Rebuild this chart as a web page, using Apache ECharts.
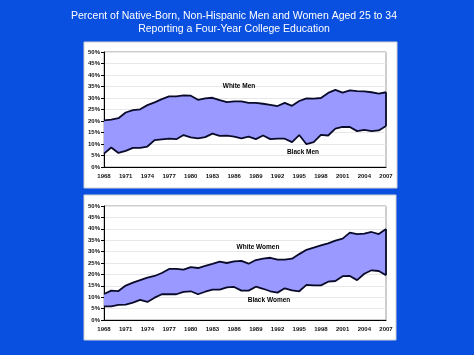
<!DOCTYPE html>
<html><head><meta charset="utf-8">
<script src="https://cdn.jsdelivr.net/npm/echarts@6/dist/echarts.min.js"></script>
<style>html,body{margin:0;padding:0;background:#0a50e0;}#c{width:474px;height:355px;}</style>
</head><body><div id="c"></div>
<script>
const years = [];
for (let y = 1968; y <= 2007; y++) years.push(String(y));
const yTicks = ['0%','5%','10%','15%','20%','25%','30%','35%','40%','45%','50%'];

const whiteMen = [20.3,20.6,21.2,23.7,24.7,25.1,26.9,28.1,29.5,30.7,30.7,31.1,31.0,29.2,29.8,30.1,29.1,28.2,28.5,28.5,27.9,27.9,27.5,27.0,26.5,27.9,26.6,28.7,29.8,29.7,30.0,32.2,33.5,32.3,33.3,33.0,32.9,32.5,31.9,32.5];
const blackMen = [5.8,8.5,6.1,7.0,8.3,8.3,8.9,11.7,12.0,12.3,12.1,13.9,12.9,12.4,13.0,14.5,13.5,13.6,13.2,12.4,13.2,12.1,13.7,12.1,12.3,12.3,10.8,13.9,9.9,10.8,14.0,13.7,16.7,17.4,17.4,15.6,16.1,15.6,15.9,17.8];
const whiteWomen = [11.4,12.9,12.7,15.1,16.4,17.5,18.6,19.3,20.6,22.4,22.4,22.1,23.2,22.8,23.7,24.6,25.6,25.0,25.7,25.9,24.7,26.3,26.9,27.3,26.5,26.5,26.9,28.9,30.8,31.7,32.7,33.6,34.8,35.7,38.3,37.7,37.9,38.6,37.7,39.9];
const blackWomen = [6.0,6.0,6.6,6.7,7.6,8.8,7.9,9.8,11.3,11.3,11.3,12.3,12.6,11.3,12.4,13.3,13.3,14.3,14.5,12.9,12.9,14.6,13.7,12.6,12.0,13.9,13.0,12.6,15.4,15.2,15.2,16.8,17.1,19.2,19.3,17.5,20.3,21.8,21.5,19.6];

const titleLines = ['Percent of Native-Born, Non-Hispanic Men and Women Aged 25 to 34','Reporting a Four-Year College Education'];
const labels = [['White Men','Black Men'],['White Women','Black Women']];

const FONT = '"Liberation Sans Narrow","Arial Narrow","Liberation Sans",Arial,sans-serif';
const LINE = '#0a0a2a';
const FILL = '#9999ff';

const chart = echarts.init(document.getElementById('c'), null, {renderer:'canvas'});

const grids = [
  {left:104, right:88, top:52, height:115},
  {left:104, right:88, top:206, height:114}
];

function xAxis(i){
  return {type:'category', gridIndex:i, data:years, boundaryGap:false,
    axisLine:{lineStyle:{color:'#000', width:1}},
    axisTick:{show:false},
    axisLabel:{interval:2, color:'#111', fontFamily:FONT, fontWeight:'bold', fontSize:6, margin:6},
    splitLine:{show:false}};
}
function yAxis(i){
  return {type:'value', gridIndex:i, min:0, max:50, interval:5,
    axisLine:{show:true, lineStyle:{color:'#000', width:1}},
    axisTick:{show:true, length:3, lineStyle:{color:'#000'}},
    axisLabel:{color:'#111', fontFamily:FONT, fontWeight:'bold', fontSize:6, margin:4,
      formatter:(v)=>yTicks[Math.round(v/5)]},
    splitLine:{show:true, lineStyle:{color:'#e8e8e8', width:1}}};
}

function band(i, low, high, stackName){
  const diff = high.map((h,k)=> +(h - low[k]).toFixed(2));
  const last = years.length - 1;
  return [
    {type:'line', xAxisIndex:i, yAxisIndex:i, stack:stackName, data:low, symbol:'none',
     lineStyle:{color:LINE, width:1.8}, areaStyle:{opacity:0}, z:3,
     markLine:{silent:true, symbol:'none', label:{show:false},
       lineStyle:{color:LINE, width:1.8, type:'solid'},
       data:[[{coord:[years[last], low[last]]},{coord:[years[last], high[last]]}]]}},
    {type:'line', xAxisIndex:i, yAxisIndex:i, stack:stackName, data:diff, symbol:'none',
     lineStyle:{color:LINE, width:1.8}, areaStyle:{color:FILL, opacity:1}, z:2}
  ];
}

chart.setOption({
  backgroundColor:'#0a50e0',
  animation:false,
  graphic:[
    {type:'rect', shape:{x:84, y:42, width:313, height:146}, style:{fill:'#fff', stroke:'#d0d0d0', lineWidth:1}, z:-10},
    {type:'rect', shape:{x:84, y:195, width:312, height:145}, style:{fill:'#fff', stroke:'#d0d0d0', lineWidth:1}, z:-10},
    {type:'rect', shape:{x:104, y:52, width:282, height:115}, style:{fill:'none', stroke:'#9a9a9a', lineWidth:1}, z:-5},
    {type:'rect', shape:{x:104, y:206, width:282, height:114}, style:{fill:'none', stroke:'#9a9a9a', lineWidth:1}, z:-5},
    {type:'text', x:234, y:16.5, style:{text:titleLines[0], fill:'#fff', font:'10.5px "Liberation Sans",Arial,sans-serif', textAlign:'center', textVerticalAlign:'middle'}},
    {type:'text', x:234, y:29.5, style:{text:titleLines[1], fill:'#fff', font:'10.5px "Liberation Sans",Arial,sans-serif', textAlign:'center', textVerticalAlign:'middle'}},
    {type:'text', x:239, y:86, z:20, style:{text:labels[0][0], fill:'#000', font:'bold 6.5px '+FONT, textAlign:'center', textVerticalAlign:'middle'}},
    {type:'text', x:303, y:152, z:20, style:{text:labels[0][1], fill:'#000', font:'bold 6.5px '+FONT, textAlign:'center', textVerticalAlign:'middle'}},
    {type:'text', x:258, y:247, z:20, style:{text:labels[1][0], fill:'#000', font:'bold 6.5px '+FONT, textAlign:'center', textVerticalAlign:'middle'}},
    {type:'text', x:269, y:300, z:20, style:{text:labels[1][1], fill:'#000', font:'bold 6.5px '+FONT, textAlign:'center', textVerticalAlign:'middle'}}
  ],
  grid:grids,
  xAxis:[xAxis(0), xAxis(1)],
  yAxis:[yAxis(0), yAxis(1)],
  series:[...band(0, blackMen, whiteMen, 'men'), ...band(1, blackWomen, whiteWomen, 'women')]
});
</script></body></html>
